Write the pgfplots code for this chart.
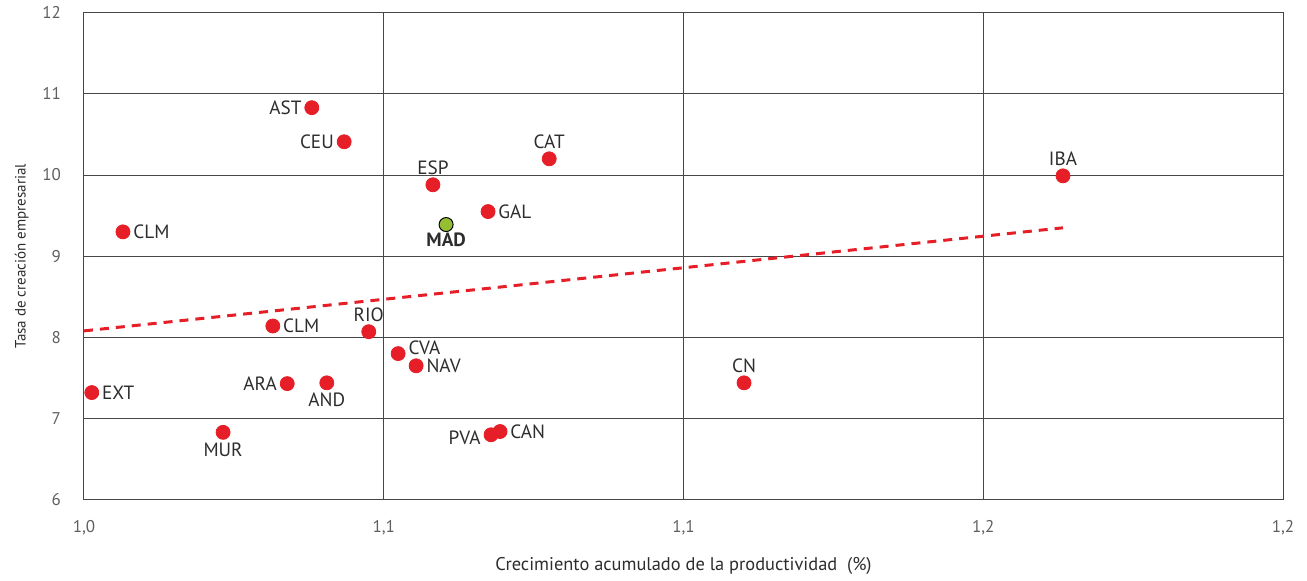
\documentclass[border=0pt]{standalone}
\usepackage{fontspec}
\setmainfont{PT Sans}
\usepackage{pgfplots}
\usepackage{pgfplotstable}
\pgfplotsset{compat=1.18}

\definecolor{dotred}{RGB}{230,30,40}
\definecolor{madgreen}{RGB}{150,190,50}
\definecolor{gridgray}{RGB}{70,70,70}
\definecolor{ticktext}{RGB}{95,95,95}
\definecolor{labtext}{RGB}{45,45,45}

% etiqueta a la izquierda
\pgfplotstableread{
x      y      label
1.0380 10.83  AST
1.0434 10.41  CEU
1.0339 7.43   ARA
}\izq
% etiqueta a la derecha
\pgfplotstableread{
x      y      label
1.0674 9.55   GAL
1.0065 9.30   CLM
1.0315 8.14   CLM
1.0554 7.65   NAV
1.0013 7.32   EXT
1.0694 6.84   CAN
}\der
% etiqueta arriba
\pgfplotstableread{
x      y      label
1.0582 9.88   ESP
1.0776 10.20  CAT
1.1633 9.99   IBA
1.0475 8.07   RIO
1.1101 7.44   CN
}\arr
% etiqueta abajo
\pgfplotstableread{
x      y      label
1.0405 7.44   AND
1.0232 6.83   MUR
}\aba
% a la derecha, algo elevada
\pgfplotstableread{
x      y      label
1.0524 7.80   CVA
}\arrder
% a la izquierda, algo baja
\pgfplotstableread{
x      y      label
1.0679 6.80   PVA
}\abaizq
\pgfplotstableread{
x      y      label
1.0604 9.39   MAD
}\madrid

\pgfplotsset{
    region/.style={
        only marks, mark=*, mark size=3.5pt,
        mark options={fill=dotred, draw=dotred},
        point meta=explicit symbolic,
        nodes near coords,
        every node near coord/.append style={anchor=#1, inner sep=5pt,
            text=labtext, font=\fontsize{9.6}{11}\selectfont},
    },
}

\begin{document}
\begin{tikzpicture}
\begin{axis}[
    scale only axis,
    width=599.5pt, height=243.5pt,
    xmin=1.0, xmax=1.2, ymin=6, ymax=12,
    xtick={1.0,1.05,1.1,1.15,1.2},
    xticklabels={{1,0},{1,1},{1,1},{1,2},{1,2}},
    ytick={6,7,...,12},
    grid=major,
    major grid style={gridgray, line width=0.5pt},
    axis line style={gridgray, line width=0.5pt},
    tick style={draw=none},
    font=\fontsize{8.5}{10}\selectfont,
    ticklabel style={text=ticktext, font=\fontsize{8.5}{10}\selectfont},
    xticklabel style={yshift=-7pt},
    yticklabel style={xshift=-8pt},
    /pgf/number format/assume math mode=true,
    xlabel={Crecimiento acumulado de la productividad\ \ (\%)},
    ylabel={Tasa de creación empresarial},
    label style={text=labtext},
    xlabel style={yshift=-4pt, font=\fontsize{9.2}{11}\selectfont},
    ylabel style={yshift=0pt, font=\fontsize{7.5}{9}\selectfont},
    clip=false,
]
% tendencia
\addplot[dotred, line width=1.5pt, dash pattern=on 4.5pt off 3.5pt] coordinates {
    (1.0, 8.08) (1.1633, 9.35)
};
\addplot[region=east] table[x=x, y=y, meta=label] {\izq};
\addplot[region=west] table[x=x, y=y, meta=label] {\der};
\addplot[region=south] table[x=x, y=y, meta=label] {\arr};
\addplot[region=north] table[x=x, y=y, meta=label] {\aba};
\addplot[region=west, every node near coord/.append style={yshift=3pt}] table[x=x, y=y, meta=label] {\arrder};
\addplot[region=east, every node near coord/.append style={yshift=-1.5pt}] table[x=x, y=y, meta=label] {\abaizq};
% Madrid
\addplot[
    only marks, mark=*, mark size=3.5pt,
    mark options={fill=madgreen, draw=black, line width=0.5pt},
    point meta=explicit symbolic,
    nodes near coords,
    every node near coord/.append style={anchor=north, inner sep=4pt,
        text=labtext, font=\fontsize{9.6}{11}\selectfont\bfseries},
] table[x=x, y=y, meta=label] {\madrid};
\end{axis}
\path (current axis.south east) -- ++(12pt,0);
\path (current axis.south west) -- ++(-42pt,0);
\end{tikzpicture}
\end{document}
